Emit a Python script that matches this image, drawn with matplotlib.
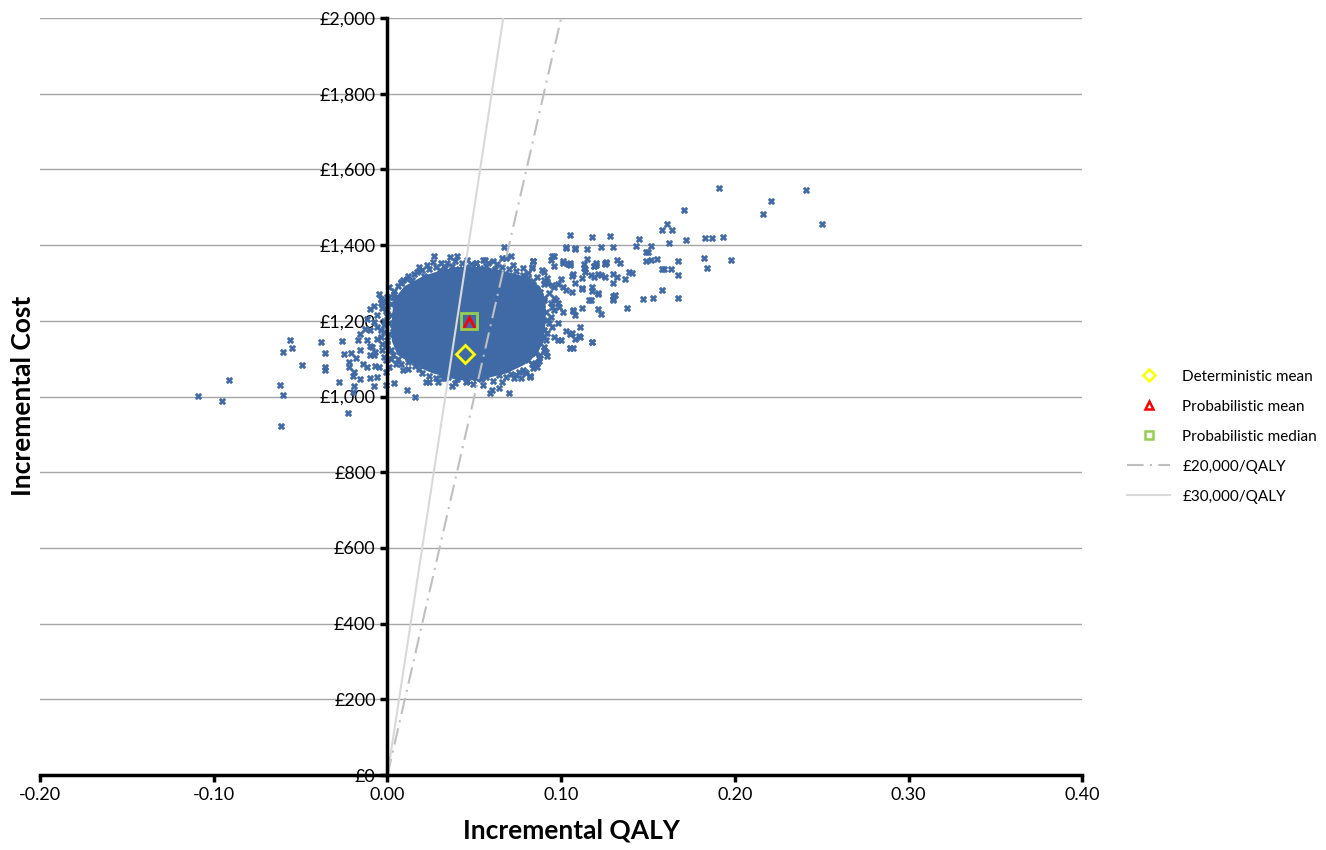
import numpy as np
import matplotlib
matplotlib.use("Agg")
from matplotlib import pyplot as plt
from matplotlib.ticker import FuncFormatter

plt.rcParams['font.family'] = ['Lato', 'DejaVu Sans']

# dense core of the simulation cloud (outline)
core_y = [1048, 1057, 1066, 1088, 1114, 1149, 1202, 1255, 1290, 1317, 1330, 1340]
core_left = [0.040, 0.034, 0.026, 0.015, 0.006, 0.003, 0.003, 0.004, 0.010, 0.021, 0.030, 0.040]
core_right = [0.053, 0.060, 0.068, 0.078, 0.085, 0.089, 0.090, 0.090, 0.087, 0.077, 0.066, 0.056]

# single simulations, (QALY, cost)
left_tail = [(-0.109, 1002), (-0.095, 988), (-0.091, 1044), (-0.062, 1030), (-0.060, 1004),
             (-0.061, 923), (-0.060, 1117), (-0.056, 1149), (-0.055, 1129), (-0.049, 1083),
             (-0.038, 1143), (-0.036, 1114), (-0.036, 1077), (-0.036, 1070), (-0.028, 1039),
             (-0.026, 1147), (-0.025, 1112), (-0.023, 957), (-0.022, 1092), (-0.022, 1079),
             (-0.021, 1115), (-0.020, 1053), (-0.019, 1029), (-0.019, 1065), (-0.020, 1012),
             (-0.018, 1101), (-0.017, 1149), (-0.016, 1123), (-0.016, 1046), (-0.014, 1087),
             (-0.012, 1079), (-0.012, 1149), (-0.010, 1230), (-0.010, 1110), (-0.010, 1050),
             (-0.008, 1029), (-0.009, 1130), (-0.008, 1111), (-0.007, 1081), (-0.006, 1052),
             (-0.005, 1079), (-0.004, 1158), (-0.004, 1176), (-0.004, 1258), (-0.003, 1233),
             (-0.003, 1123), (-0.001, 1031), (-0.001, 1066), (0.000, 1264), (-0.010, 1176),
             (-0.008, 1198), (-0.006, 1183), (-0.013, 1178), (-0.016, 1164), (-0.006, 1152),
             (-0.010, 1133), (-0.001, 1096), (-0.004, 1246), (-0.007, 1118), (-0.002, 1200),
             (-0.006, 1215), (-0.002, 1170), (-0.003, 1140), (-0.001, 1225), (-0.012, 1205),
             (-0.008, 1240), (-0.002, 1105), (-0.005, 1270)]

right_tail = [(0.191, 1551), (0.241, 1546), (0.221, 1516), (0.216, 1483), (0.250, 1456),
              (0.171, 1493), (0.161, 1456), (0.158, 1439), (0.164, 1439), (0.172, 1413),
              (0.162, 1406), (0.183, 1418), (0.187, 1419), (0.193, 1422), (0.182, 1367),
              (0.184, 1340), (0.198, 1361), (0.167, 1357), (0.158, 1336), (0.159, 1336),
              (0.163, 1336), (0.167, 1322), (0.158, 1282), (0.167, 1261), (0.153, 1259),
              (0.147, 1257), (0.138, 1235), (0.143, 1399), (0.145, 1415), (0.152, 1397),
              (0.149, 1383), (0.150, 1383), (0.149, 1359), (0.152, 1361), (0.155, 1364),
              (0.139, 1329), (0.141, 1327), (0.137, 1310), (0.132, 1316), (0.130, 1324),
              (0.130, 1300), (0.128, 1424), (0.130, 1394), (0.132, 1361), (0.134, 1352),
              (0.131, 1268), (0.130, 1257), (0.123, 1394), (0.118, 1421), (0.105, 1428),
              (0.103, 1393), (0.108, 1390), (0.115, 1391), (0.115, 1364), (0.125, 1352),
              (0.126, 1355), (0.119, 1345), (0.120, 1347), (0.113, 1339), (0.114, 1330),
              (0.121, 1325), (0.125, 1315), (0.119, 1316), (0.112, 1312), (0.106, 1319),
              (0.108, 1299), (0.112, 1283), (0.118, 1290), (0.118, 1279), (0.121, 1272),
              (0.117, 1254), (0.112, 1234), (0.121, 1231), (0.123, 1219), (0.108, 1215),
              (0.107, 1225), (0.111, 1183), (0.103, 1173), (0.110, 1159), (0.105, 1164),
              (0.108, 1151), (0.118, 1144), (0.105, 1129), (0.096, 1372), (0.094, 1362),
              (0.084, 1357), (0.101, 1354), (0.104, 1351), (0.105, 1347), (0.096, 1345),
              (0.113, 1349), (0.114, 1338), (0.120, 1352), (0.119, 1344), (0.125, 1349),
              (0.126, 1353), (0.123, 1321), (0.117, 1321), (0.107, 1325), (0.100, 1310),
              (0.098, 1296), (0.092, 1312), (0.090, 1297), (0.095, 1295), (0.101, 1290),
              (0.103, 1281), (0.106, 1277), (0.112, 1286), (0.121, 1274), (0.130, 1266),
              (0.130, 1255), (0.116, 1255), (0.107, 1229), (0.096, 1259), (0.097, 1255),
              (0.098, 1246), (0.101, 1224), (0.094, 1211), (0.098, 1193), (0.106, 1167),
              (0.111, 1158), (0.098, 1149), (0.100, 1149), (0.105, 1128), (0.118, 1144),
              (0.090, 1158), (0.092, 1167), (0.091, 1118), (0.090, 1123), (0.085, 1114),
              (0.086, 1089), (0.083, 1086), (0.082, 1054)]

core_fringe = [(0.083, 1343), (0.081, 1326), (0.089, 1334), (0.086, 1317), (0.090, 1308),
               (0.092, 1299), (0.084, 1290), (0.088, 1277), (0.093, 1273), (0.090, 1259),
               (0.086, 1246), (0.089, 1233), (0.094, 1246), (0.091, 1224), (0.096, 1229),
               (0.099, 1237), (0.087, 1211), (0.092, 1202), (0.085, 1184), (0.090, 1176),
               (0.095, 1184), (0.081, 1149), (0.087, 1145), (0.090, 1131), (0.084, 1123),
               (0.088, 1110), (0.081, 1096), (0.086, 1079), (0.079, 1066), (0.082, 1054),
               (0.027, 1372), (0.036, 1368), (0.040, 1370), (0.018, 1341), (0.023, 1347),
               (0.031, 1352), (0.051, 1352), (0.056, 1361), (0.061, 1359), (0.067, 1396),
               (0.066, 1365), (0.072, 1347), (0.084, 1359), (0.083, 1339), (0.090, 1330),
               (0.095, 1370), (0.091, 1303), (0.096, 1290), (0.008, 1303), (0.011, 1310),
               (0.014, 1308), (0.004, 1264), (0.001, 1264), (0.000, 1229), (0.004, 1035),
               (0.016, 999), (0.009, 1070), (0.012, 1074), (0.018, 1074), (0.022, 1039),
               (0.029, 1039), (0.037, 1029), (0.033, 1048), (0.049, 1033), (0.051, 1048),
               (0.059, 1008), (0.064, 1022), (0.070, 1008), (0.066, 1039), (0.073, 1048),
               (0.076, 1065), (0.082, 1052), (0.087, 1101), (0.091, 1149), (0.096, 1158),
               (0.093, 1193), (0.095, 1237), (0.090, 1255), (0.000, 1149), (0.002, 1123),
               (0.001, 1079), (0.005, 1087), (0.003, 1180), (0.011, 1017), (0.024, 1039),
               (0.032, 1048), (0.060, 1017), (0.077, 1048), (0.080, 1061), (0.085, 1089),
               (0.092, 1108), (0.107, 1127), (0.043, 1352), (0.051, 1354), (0.055, 1362),
               (0.068, 1365), (0.071, 1370), (0.084, 1357), (0.103, 1396), (0.108, 1392),
               (0.101, 1357), (0.105, 1352), (0.008, 1301), (0.009, 1309), (0.021, 1318),
               (0.032, 1330), (0.034, 1352), (0.005, 1259),
               # points along the edge of the dense core
               (0.020, 1335), (0.024, 1338), (0.028, 1342), (0.033, 1340), (0.037, 1345),
               (0.041, 1338), (0.045, 1343), (0.048, 1349), (0.053, 1340), (0.057, 1346),
               (0.062, 1338), (0.066, 1343), (0.070, 1336), (0.074, 1331), (0.078, 1340),
               (0.026, 1356), (0.039, 1358), (0.046, 1362), (0.058, 1352), (0.063, 1349),
               (0.015, 1325), (0.012, 1318), (0.017, 1330), (0.030, 1333), (0.052, 1334),
               (0.078, 1322), (0.081, 1312), (0.084, 1305), (0.001, 1290), (0.004, 1280),
               (0.006, 1292), (-0.001, 1250), (0.002, 1245), (0.000, 1212), (-0.002, 1188),
               (0.001, 1165), (0.000, 1135), (0.003, 1110), (0.002, 1098), (0.006, 1100),
               (0.008, 1085), (0.004, 1270), (0.002, 1215), (0.001, 1195), (0.020, 1062),
               (0.024, 1055), (0.028, 1050), (0.031, 1058), (0.035, 1052), (0.040, 1046),
               (0.043, 1054), (0.046, 1042), (0.050, 1055), (0.054, 1045), (0.057, 1051),
               (0.061, 1042), (0.064, 1056), (0.068, 1052), (0.071, 1060), (0.074, 1058),
               (0.078, 1070), (0.045, 1038), (0.039, 1036), (0.055, 1030), (0.016, 1080),
               (0.012, 1090), (0.084, 1075), (0.087, 1095)]

det_mean = (0.0448, 1113)
prob_mean = (0.0472, 1195)
prob_median = (0.0467, 1199)

thresholds = [20000, 30000]
thr_labels = ['£20,000/QALY', '£30,000/QALY']

blue = '#406AA6'
pts = np.array(left_tail + right_tail + core_fringe)

fig = plt.figure(figsize=(13.26, 8.5), dpi=100)
ax = fig.add_axes([0.0302, 0.0882, 0.786, 0.8906])

ax.set_xlim(-0.2, 0.4)
ax.set_ylim(0, 2000)
ax.set_yticks(np.arange(0, 2001, 200))
ax.set_xticks(np.arange(-0.2, 0.41, 0.1))
ax.grid(True, axis='y', color='#A6A6A6', linewidth=1)
ax.set_axisbelow(True)

ax.fill_betweenx(core_y, core_left, core_right, color=blue, linewidth=2, edgecolor=blue, zorder=2)
ax.scatter(pts[:, 0], pts[:, 1], marker='X', s=24, color=blue, linewidths=0.3, zorder=2)

# threshold lines
q = np.array([0.0, 0.1])
ax.plot(q, thresholds[0] * q, color='#BFBFBF', linestyle=(0, (8, 3, 1, 3)), linewidth=1.5,
        label=thr_labels[0], zorder=3)
ax.plot(q, thresholds[1] * q, color='#D9D9D9', linewidth=1.5, label=thr_labels[1], zorder=3)

ax.plot(*det_mean, marker='D', markersize=9, markerfacecolor='none', markeredgecolor='#FFFF00',
        markeredgewidth=2, linestyle='none', label='Deterministic mean', zorder=5)
ax.plot(*prob_mean, marker='^', markersize=9, markerfacecolor='none', markeredgecolor='#FF0000',
        markeredgewidth=2, linestyle='none', label='Probabilistic mean', zorder=5)
ax.plot(*prob_median, marker='s', markersize=11, markerfacecolor='none', markeredgecolor='#92D050',
        markeredgewidth=2, linestyle='none', label='Probabilistic median', zorder=5)

for s in ['top', 'right']:
    ax.spines[s].set_visible(False)
ax.spines['left'].set_position(('data', 0))
ax.spines['left'].set_linewidth(2.5)
ax.spines['bottom'].set_linewidth(2.5)
ax.spines['left'].set_zorder(4)
ax.tick_params(axis='both', direction='out', width=2.5, length=5, labelsize=13)
ax.yaxis.set_major_formatter(FuncFormatter(lambda v, p: '£{:,.0f}'.format(v)))
ax.xaxis.set_major_formatter(FuncFormatter(lambda v, p: '{:.2f}'.format(v)))

ax.set_xlabel('Incremental QALY', fontsize=19, fontweight='bold')
ax.xaxis.set_label_coords(0.5096, -0.058)
fig.text(0.017, 0.534, 'Incremental Cost', rotation=90, fontsize=19, fontweight='bold',
         ha='center', va='center')

handles, labels = ax.get_legend_handles_labels()
order = [2, 3, 4, 0, 1]
leg = ax.legend([handles[i] for i in order], [labels[i] for i in order],
                loc='center left', bbox_to_anchor=(1.03, 0.447), frameon=False,
                fontsize=11, labelspacing=1.05, handlelength=2.8)
for h in leg.legend_handles:
    h.set_markersize(6)
    h.set_markeredgewidth(1.8)

fig.savefig('out.png', dpi=100)
